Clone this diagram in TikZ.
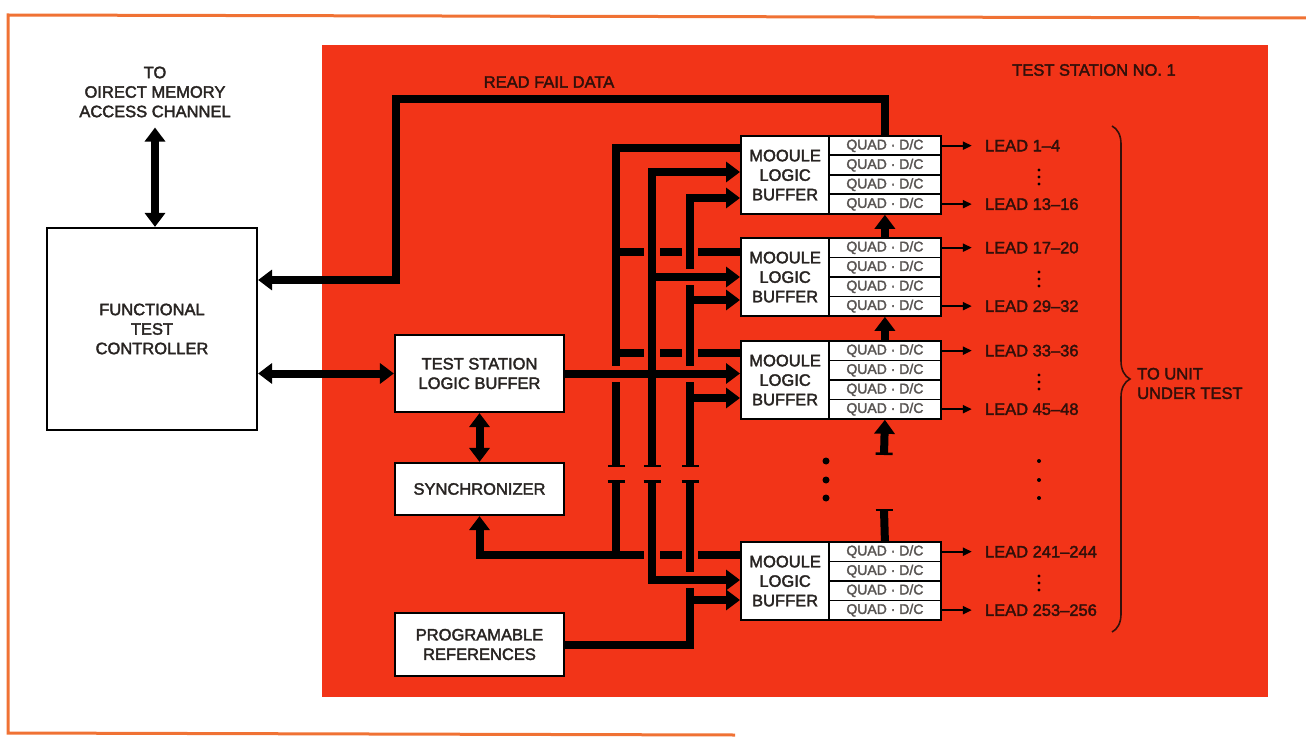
\documentclass[tikz,border=0pt]{standalone}
\usepackage{fontspec}
\setmainfont{Liberation Sans}[FakeBold=2.2]
\usetikzlibrary{arrows.meta, positioning, decorations.pathreplacing}

\definecolor{stationred}{RGB}{242,52,24}
\definecolor{frameorange}{RGB}{240,114,52}
\definecolor{boxink}{RGB}{40,36,34}
\definecolor{redink}{RGB}{50,16,10}
\definecolor{quadink}{RGB}{88,84,82}

\pgfdeclarelayer{wires}
\pgfsetlayers{wires,main}

\begin{document}
\begin{tikzpicture}[
    x=1pt, y=-1pt,
    Tri/.tip={Triangle[length=14pt, width=20pt]},
    Brk/.tip={Bar[width=17pt, line width=2.5pt]},
    box/.style={draw, line width=2.2pt, fill=white, align=center, inner sep=0pt,
        text=boxink, font=\fontsize{16.5}{19.5}\selectfont},
    mlb/.style={box, anchor=north west, minimum width=88pt, minimum height=78pt},
    quad/.style={draw, line width=1.8pt, fill=white, anchor=north west, inner sep=0pt,
        minimum width=112pt, minimum height=19.5pt, text=quadink, font=\fontsize{14}{16}\selectfont},
    tag/.style={inner sep=0pt, align=center, text=redink, font=\fontsize{16.5}{19.5}\selectfont},
    lead/.style={tag, anchor=west},
    bus/.style={line width=8pt},
    halo/.style={preaction={draw=stationred, line width=16pt, arrows=-}},
    leadarrow/.style={line width=2pt, -{Triangle[length=9pt, width=8pt]}, shorten >=13pt}
]
\useasboundingbox (0,0) rectangle (1306,738);

% --- Controller side ---
\node[tag, text=boxink] (dma) at (155,92) {TO\\OIRECT MEMORY\\ACCESS CHANNEL};
\node[box, minimum width=210pt, minimum height=202pt] (ftc) at (152,329) {FUNCTIONAL\\TEST\\CONTROLLER};

% --- Station boxes ---
\node[box, minimum width=169pt, minimum height=77pt] (tslb) at (479.5,373.5) {TEST STATION\\LOGIC BUFFER};
\node[box, minimum width=169pt, minimum height=52pt] (sync) at (479.5,489) {SYNCHRONIZER};
\node[box, minimum width=169pt, minimum height=63pt] (pref) at (479.5,644.5) {PROGRAMABLE\\REFERENCES};

\node[tag] (rfd) at (549,82) {READ FAIL DATA};
\node[tag] (tsno) at (1094,70) {TEST STATION NO. 1};
\node[tag, anchor=west, align=left] (uut) at (1137,383.5) {TO UNIT\\UNDER TEST};

% --- Module logic buffers and leads ---
\foreach \i/\y/\a/\b in {1/135/1--4/13--16, 2/237/17--20/29--32, 3/340/33--36/45--48, 4/541/241--244/253--256} {
    \node[mlb] (m\i) at (740,\y) {MOOULE\\LOGIC\\BUFFER};
    \foreach \j in {1,2,3,4} {
        \node[quad] (q\i\j) at (828,{\y+(\j-1)*19.5}) {QUAD · D/C};
    }
    \node[lead, right=43pt of q\i1] (la\i) {LEAD \a};
    \node[lead, right=43pt of q\i4] (lb\i) {LEAD \b};
    \draw[leadarrow] (q\i1.east) -- (la\i.west);
    \draw[leadarrow] (q\i4.east) -- (lb\i.west);
    \foreach \d in {-7,0,7} {
        \fill (1039,{\y+42+\d}) circle[radius=1.6pt];
    }
}

% gap between module 3 and module 4
\foreach \y in {461,480,498} {
    \fill (826,\y) circle[radius=3.5pt];
    \fill (1039,\y) circle[radius=2pt];
}

\draw[redink, line width=1.6pt, decorate, decoration={brace, amplitude=18pt}] (1112,126) -- (1112,632);

\begin{pgfonlayer}{wires}
% --- Page ---
\fill[stationred] (322,45) rectangle (1268,697);
\draw[frameorange, line width=3pt] (1306,18) -- (8,15) -- (8,733) -- (735,735);

% --- Bus points ---
\coordinate (aT) at (616,467); \coordinate (aB) at (616,480);
\coordinate (bT) at (652,467); \coordinate (bB) at (652,480);
\coordinate (cT) at (690,467); \coordinate (cB) at (690,480);
\coordinate (a1) at (616,148); \coordinate (a2) at (616,252);
\coordinate (a3) at (616,353); \coordinate (a4) at (616,555);
\coordinate (b1) at (652,172); \coordinate (b2) at (652,277);
\coordinate (b4) at (652,580);
\coordinate (c1) at (690,198); \coordinate (c2) at (690,300);
\coordinate (c3) at (690,398); \coordinate (c4) at (690,600);
\coordinate (rftop) at (396,99); \coordinate (rf) at (396,280);
\coordinate (s3) at (884,455); \coordinate (s4) at (884,510);

% synchronizer bus
\draw[bus, Brk-] (aT) -- (a1) -- (a1 -| m1.west);
\draw[bus] (a2) -- (a2 -| m2.west);
\draw[bus] (a3) -- (a3 -| m3.west);
\draw[bus, Brk-] (aB) -- (a4);
\draw[bus, Tri-] (sync.south) |- (a4) -- (a4 -| m4.west);

% reference bus
\draw[bus, halo, Brk-Tri] (cT) -- (c1) -- (c1 -| m1.west);
\draw[bus, halo, -Brk] (pref.east) -| (cB);
\draw[bus, -Tri] (c2) -- (c2 -| m2.west);
\draw[bus, -Tri] (c3) -- (c3 -| m3.west);
\draw[bus, -Tri] (c4) -- (c4 -| m4.west);

% station logic bus
\draw[bus, halo, Brk-Tri] (bT) -- (b1) -- (b1 -| m1.west);
\draw[bus, halo, Brk-Tri] (bB) -- (b4) -- (b4 -| m4.west);
\draw[bus, halo, -Tri] (b2) -- (b2 -| m2.west);
\draw[bus, halo, -Tri] (tslb.east) -- (tslb.east -| m3.west);
\draw[bus] (bT) -- (b1);

% --- Module chain and fail data ---
\draw[bus, -Tri] (q21.north) -- (q14.south);
\draw[bus, -Tri] (q31.north) -- (q24.south);
\draw[bus, Brk-Tri] (s3) -- (q34.south);
\draw[bus] (s4) -- (q41.north);
\draw[line width=2.5pt] ([xshift=-8.5pt]s4) -- ([xshift=8.5pt]s4);
\draw[bus, -Tri] (q11.north) |- (rftop) -- (rf) -- (rf -| ftc.east);

% --- Controller links ---
\draw[bus, Tri-Tri, shorten <=10pt] (dma.south) -- (dma.south |- ftc.north);
\draw[bus, Tri-Tri] (tslb.west -| ftc.east) -- (tslb.west);
\draw[bus, Tri-Tri] (tslb.south) -- (sync.north);
\end{pgfonlayer}

\end{tikzpicture}
\end{document}
